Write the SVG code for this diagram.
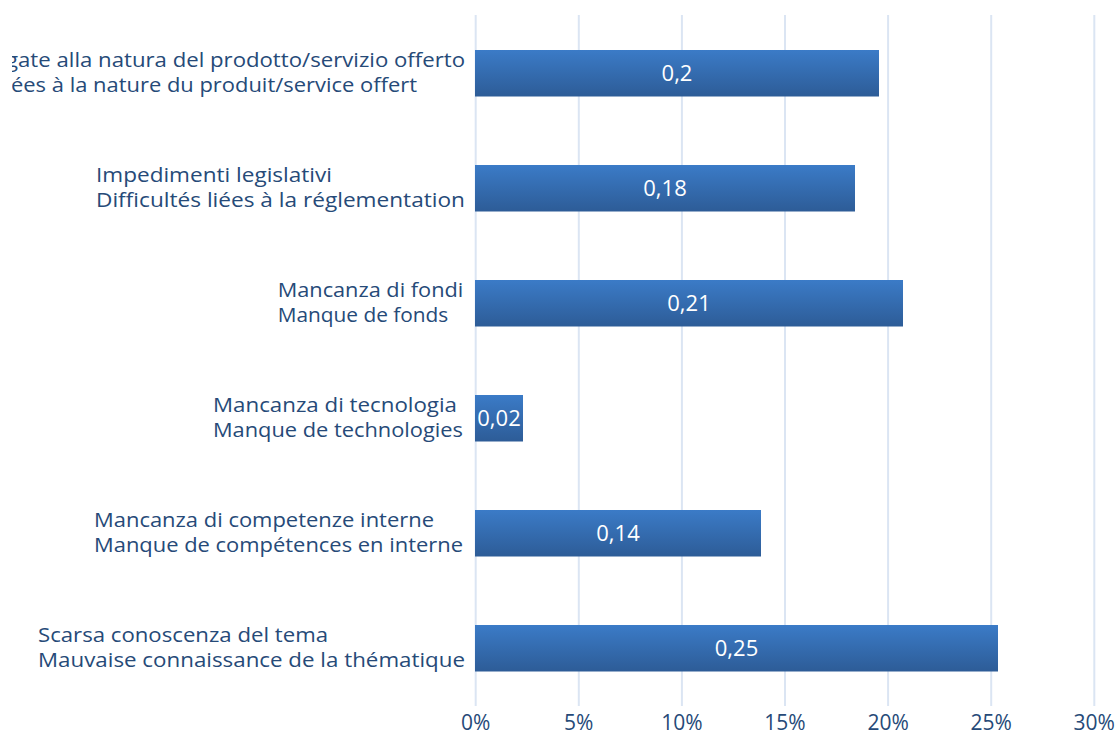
<svg xmlns="http://www.w3.org/2000/svg" width="1119" height="738" viewBox="0 0 1119 738">
  <defs>
    <linearGradient id="barGrad" x1="0" y1="0" x2="0" y2="1">
      <stop offset="0" stop-color="#3b7bc7"/>
      <stop offset="1" stop-color="#2d5c97"/>
    </linearGradient>
    <clipPath id="plotClip">
      <rect x="12" y="0" width="1107" height="738"/>
    </clipPath>
    <style>
      .grid { stroke: #dbe5f3; stroke-width: 2; fill: none; }
      .bar { fill: url(#barGrad); }
      .cat { font-family: "Open Sans", "Noto Sans", sans-serif; font-size: 20px; fill: #264a78; }
      .val { font-family: "Open Sans", "Noto Sans", sans-serif; font-size: 22px; fill: #ffffff; text-anchor: middle; }
      .tick { font-family: "Open Sans", "Noto Sans", sans-serif; font-size: 21px; fill: #264a78; text-anchor: middle; }
    </style>
  </defs>
  <rect x="0" y="0" width="1119" height="738" fill="#ffffff"/>

  <g id="gridlines">
    <line class="grid" x1="475.7" y1="15" x2="475.7" y2="706"/>
    <line class="grid" x1="578.8" y1="15" x2="578.8" y2="706"/>
    <line class="grid" x1="681.9" y1="15" x2="681.9" y2="706"/>
    <line class="grid" x1="785" y1="15" x2="785" y2="706"/>
    <line class="grid" x1="888.1" y1="15" x2="888.1" y2="706"/>
    <line class="grid" x1="991.2" y1="15" x2="991.2" y2="706"/>
    <line class="grid" x1="1094.3" y1="15" x2="1094.3" y2="706"/>
  </g>

  <g id="axis-labels">
    <text class="tick" x="475.7" y="730">0%</text>
    <text class="tick" x="578.8" y="730">5%</text>
    <text class="tick" x="681.9" y="730">10%</text>
    <text class="tick" x="785" y="730">15%</text>
    <text class="tick" x="888.1" y="730">20%</text>
    <text class="tick" x="991.2" y="730">25%</text>
    <text class="tick" x="1094.3" y="730">30%</text>
  </g>

  <g id="bar1">
    <rect class="bar" x="475" y="50" width="404" height="46.5"/>
    <text class="val" x="677" y="80.5">0,2</text>
    <g clip-path="url(#plotClip)">
      <text class="cat" y="66.7"><tspan x="6" text-anchor="end">Difficoltà le</tspan><tspan x="6" textLength="459" lengthAdjust="spacingAndGlyphs">gate alla natura del prodotto/servizio offerto</tspan></text>
      <text class="cat" y="92"><tspan x="11" text-anchor="end">Difficultés li</tspan><tspan x="11" textLength="406" lengthAdjust="spacingAndGlyphs">ées à la nature du produit/service offert</tspan></text>
    </g>
  </g>

  <g id="bar2">
    <rect class="bar" x="475" y="165" width="380" height="46.5"/>
    <text class="val" x="665" y="195.5">0,18</text>
    <text class="cat" x="96" y="181.7" textLength="236" lengthAdjust="spacingAndGlyphs">Impedimenti legislativi</text>
    <text class="cat" x="96" y="207" textLength="369" lengthAdjust="spacingAndGlyphs">Difficultés liées à la réglementation</text>
  </g>

  <g id="bar3">
    <rect class="bar" x="475" y="280" width="428" height="46.5"/>
    <text class="val" x="689" y="310.5">0,21</text>
    <text class="cat" x="277.7" y="296.7" textLength="185.6" lengthAdjust="spacingAndGlyphs">Mancanza di fondi</text>
    <text class="cat" x="277.7" y="322" textLength="170.6" lengthAdjust="spacingAndGlyphs">Manque de fonds</text>
  </g>

  <g id="bar4">
    <rect class="bar" x="475" y="395" width="48" height="46.5"/>
    <text class="val" x="499" y="425.5">0,02</text>
    <text class="cat" x="213" y="411.7" textLength="244" lengthAdjust="spacingAndGlyphs">Mancanza di tecnologia</text>
    <text class="cat" x="213" y="437" textLength="250" lengthAdjust="spacingAndGlyphs">Manque de technologies</text>
  </g>

  <g id="bar5">
    <rect class="bar" x="475" y="510" width="286" height="46.5"/>
    <text class="val" x="618" y="540.5">0,14</text>
    <text class="cat" x="94" y="526.7" textLength="340" lengthAdjust="spacingAndGlyphs">Mancanza di competenze interne</text>
    <text class="cat" x="94" y="552" textLength="369" lengthAdjust="spacingAndGlyphs">Manque de compétences en interne</text>
  </g>

  <g id="bar6">
    <rect class="bar" x="475" y="625" width="523" height="46.5"/>
    <text class="val" x="736.5" y="655.5">0,25</text>
    <text class="cat" x="38" y="641.7" textLength="290" lengthAdjust="spacingAndGlyphs">Scarsa conoscenza del tema</text>
    <text class="cat" x="38" y="667" textLength="427" lengthAdjust="spacingAndGlyphs">Mauvaise connaissance de la thématique</text>
  </g>
</svg>
